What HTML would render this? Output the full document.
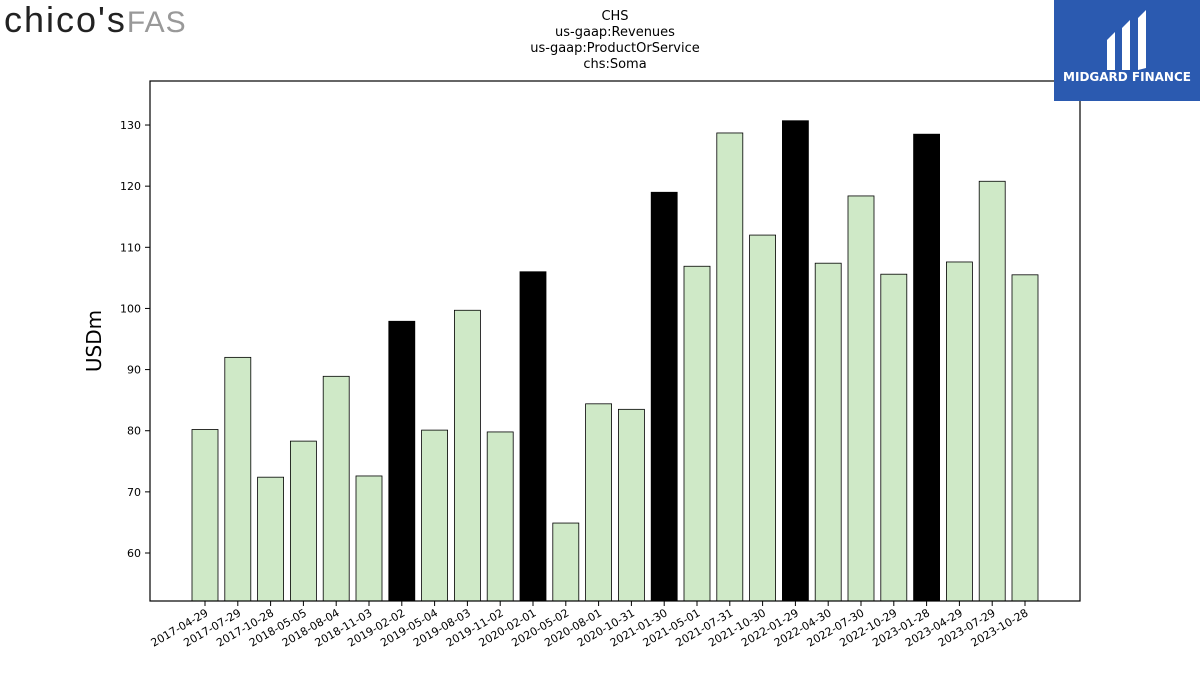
<!DOCTYPE html>
<html><head><meta charset="utf-8"><style>
body{margin:0;width:1200px;height:675px;background:#fff;overflow:hidden;font-family:"DejaVu Sans","Liberation Sans",sans-serif}
</style></head><body>
<svg width="1200" height="675" xmlns="http://www.w3.org/2000/svg">
<text x="4" y="32" font-family="Liberation Sans, sans-serif" font-size="36" fill="#222" letter-spacing="2">chico's<tspan fill="#999" font-size="30" letter-spacing="1">FAS</tspan></text>
<text x="615" y="20" text-anchor="middle" font-size="13"><tspan x="615">CHS</tspan><tspan x="615" dy="16">us-gaap:Revenues</tspan><tspan x="615" dy="16">us-gaap:ProductOrService</tspan><tspan x="615" dy="16">chs:Soma</tspan></text>
<g id="plot"></g>
<rect x="150" y="81" width="930" height="520" fill="none" stroke="#000" stroke-width="1.2"/>
<g>
<rect x="1054" y="0" width="146" height="101" fill="#2b5ab0"/>
<path d="M1107 40 L1115 32 L1115 70 L1107 70 Z M1122 28 L1130 20 L1130 70 L1122 70 Z M1138 18 L1146 10 L1146 68 L1138 70 Z" fill="#fff"/>
<text x="1127" y="81" text-anchor="middle" font-size="12" font-weight="bold" fill="#fff">MIDGARD FINANCE</text>
</g>
<text transform="translate(101,341) rotate(-90)" text-anchor="middle" font-size="20">USDm</text>
</svg>
<script>
const categories=["2017-04-29","2017-07-29","2017-10-28","2018-05-05","2018-08-04","2018-11-03","2019-02-02","2019-05-04","2019-08-03","2019-11-02","2020-02-01","2020-05-02","2020-08-01","2020-10-31","2021-01-30","2021-05-01","2021-07-31","2021-10-30","2022-01-29","2022-04-30","2022-07-30","2022-10-29","2023-01-28","2023-04-29","2023-07-29","2023-10-28"];
const values=[80.2,92.0,72.4,78.3,88.9,72.6,97.9,80.1,99.7,79.8,106.0,64.9,84.4,83.5,119.0,106.9,128.7,112.0,130.7,107.4,118.4,105.6,128.5,107.6,120.8,105.5];
const fourthQuarter=[false,false,false,false,false,false,true,false,false,false,true,false,false,false,true,false,false,false,true,false,false,false,true,false,false,false];
const yTicks=[60,70,80,90,100,110,120,130];
(function(){
const NS="http://www.w3.org/2000/svg";
const g=document.getElementById('plot');
const yMin=52.15,yMax=137.2,pTop=81,pBot=601;
const y=v=>pBot-(v-yMin)/(yMax-yMin)*(pBot-pTop);
const x0=205,step=(1025-205)/25,bw=26;
const x=i=>x0+i*step;
function mk(t,a){const e=document.createElementNS(NS,t);for(const k in a)e.setAttribute(k,a[k]);g.appendChild(e);return e;}
yTicks.forEach(v=>{
 const l=mk('line',{x1:145,x2:150,y1:y(v),y2:y(v),stroke:'#000'});
 
 
 const t=mk('text',{x:141,y:y(v)+4,'text-anchor':'end','font-size':11});
 t.textContent=v;
 
 
});
values.forEach((v,i)=>{
 const r=mk('rect',{x:x(i)-bw/2,y:y(v),width:bw,height:pBot-y(v),fill:fourthQuarter[i]?'#000':'#cfe9c7',stroke:'#000','stroke-width':0.8});
 
 
 const tk=mk('line',{x1:x(i),x2:x(i),y1:pBot,y2:pBot+5,stroke:'#000'});
 
 
 const t=mk('text',{transform:`translate(${x(i)+4},${pBot+14}) rotate(-30)`,'text-anchor':'end','font-size':11});
 t.textContent=categories[i];
 
 
});
})();
</script>
</body></html>
